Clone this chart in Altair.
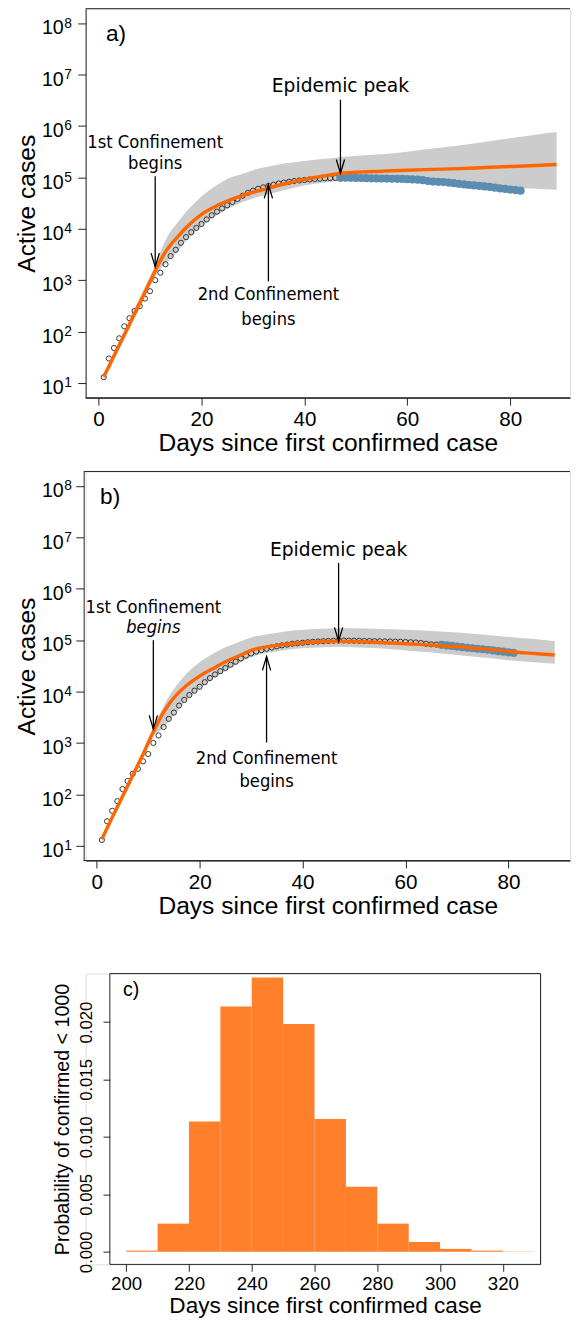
import altair as alt
import pandas as pd

# ---------------- data ----------------
obs_days = list(range(1, 83))
obs_cases = [13, 30, 48, 74, 127, 182, 252, 314, 440, 610,
             1000, 1400, 2040, 2940, 3900, 5340, 6880, 8560, 10400, 12400,
             15200, 18300, 21500, 24900, 28700, 33300, 38000, 44000, 50000, 55000,
             60000, 64000, 68000, 72000, 76000, 79000, 82000, 85000, 87000, 89000,
             91000, 93000, 94000, 95500, 96500, 97500, 98000, 98500, 98000, 97500,
             97000, 96500, 96000, 95500, 95000, 94500, 94000, 93500, 93000, 92000,
             91000, 90000, 88000, 85000, 83000, 82000, 81000, 79000, 77000, 75000,
             73000, 71000, 69500, 68000, 66500, 65000, 63000, 61000, 59500, 58000,
             56500, 55000]

fit_days = [1, 3, 5, 7, 9, 11, 12, 13, 14, 15, 17, 20, 23, 25, 28,
            30, 33, 36, 40, 44, 47, 50, 55, 60, 65, 70, 75, 80, 85, 89]
# model fit and band, read as log10(active cases)
fit_a_log10 = [1.12, 1.53, 1.94, 2.35, 2.76, 3.18, 3.38, 3.55, 3.69, 3.80, 4.02, 4.28, 4.45, 4.54, 4.65,
               4.71, 4.79, 4.87, 4.96, 5.03, 5.08, 5.10, 5.12, 5.14, 5.155, 5.17, 5.19, 5.21, 5.23, 5.25]
hi_a_log10 = [1.18, 1.60, 2.02, 2.45, 2.87, 3.30, 3.55, 3.77, 3.95, 4.08, 4.33, 4.63, 4.85, 4.97, 5.07,
              5.14, 5.21, 5.27, 5.32, 5.36, 5.39, 5.42, 5.45, 5.50, 5.56, 5.62, 5.69, 5.76, 5.83, 5.88]
lo_a_log10 = [1.06, 1.46, 1.86, 2.26, 2.67, 3.08, 3.22, 3.32, 3.42, 3.52, 3.76, 4.04, 4.27, 4.38, 4.52,
              4.59, 4.67, 4.75, 4.84, 4.90, 4.93, 4.93, 4.92, 4.90, 4.88, 4.86, 4.83, 4.80, 4.78, 4.76]
fit_b_log10 = [1.13, 1.55, 1.96, 2.37, 2.78, 3.22, 3.42, 3.60, 3.75, 3.88, 4.08, 4.30, 4.47, 4.58, 4.71,
               4.80, 4.87, 4.91, 4.95, 4.975, 4.98, 4.975, 4.955, 4.93, 4.905, 4.87, 4.83, 4.78, 4.74, 4.71]
hi_b_log10 = [1.19, 1.61, 2.02, 2.43, 2.85, 3.30, 3.52, 3.72, 3.90, 4.05, 4.30, 4.57, 4.76, 4.86, 4.98,
              5.05, 5.11, 5.16, 5.20, 5.22, 5.23, 5.23, 5.215, 5.20, 5.18, 5.15, 5.11, 5.06, 5.02, 4.98]
lo_b_log10 = [1.07, 1.49, 1.90, 2.31, 2.72, 3.14, 3.22, 3.30, 3.42, 3.53, 3.78, 4.05, 4.28, 4.40, 4.57,
              4.67, 4.75, 4.80, 4.84, 4.86, 4.87, 4.86, 4.84, 4.80, 4.76, 4.71, 4.66, 4.61, 4.57, 4.54]

split_a, end_a = 47, 82      # fitted (open) vs held-out (blue) observations
split_b, end_b = 67, 81

y_exponents = [1, 2, 3, 4, 5, 6, 7, 8]
x_ticks_ab = [0, 20, 40, 60, 80]

note_text = ["1st Confinement", "begins", "Epidemic peak", "2nd Confinement", "begins"]
note_day = [11, 11, 47, 33, 33]
note_log_a = [5.68, 5.28, 6.77, 2.72, 2.24]
note_log_b = [5.65, 5.25, 6.75, 2.71, 2.25]
note_face = ["condensed", "condensed", "regular", "condensed", "condensed"]
note_style_a = ["normal", "normal", "normal", "normal", "normal"]
note_style_b = ["normal", "italic", "normal", "normal", "normal"]

arrow_day = [11, 47, 33]
arrow_dir = ["down", "down", "up"]
arrow_from_log_a = [5.02, 6.51, 2.975]
arrow_to_log_a = [3.26, 5.08, 4.86]
arrow_from_log_b = [5.00, 6.50, 3.01]
arrow_to_log_b = [3.27, 4.98, 4.68]

hist_left = [200, 210, 220, 230, 240, 250, 260, 270, 280, 290, 300, 310, 320]
hist_prob = [0.0001, 0.00245, 0.01134, 0.02135, 0.02388, 0.01983, 0.01156,
             0.00565, 0.00245, 0.00084, 0.00025, 0.0001, 0.00003]
hist_ticks = [200, 220, 240, 260, 280, 300, 320]
prob_ticks = [0.0, 0.005, 0.010, 0.015, 0.020]
c_frame_x = [194.8, 332.0]          # R's plotting region of panel c
c_frame_y = [-0.0011, 0.02422]

# ---------------- styling ----------------
FONT = "Liberation Sans"
NOTE_FONTS = {"condensed": ("DejaVu Sans Condensed, DejaVu Sans", 18.5),
              "regular": ("DejaVu Sans", 19)}
LINE = "#222222"
ORANGE = "#FF6600"
BLUE = "#5B8DB0"
BAND = "#CCCCCC"
HIST = "#FF7F2A"
HEAD_DOWN = "M-0.3,-1L0,0L0.3,-1"
HEAD_UP = "M-0.3,1L0,0L0.3,1"
PLOT_H = 396


def curve_panel(tag, tag_day, tag_log, fit_log, hi_log, lo_log, split, end,
                note_log, note_style, arr_from, arr_to, width, xmin, xmax,
                label_pad, extent, axis_shift):
    xs = alt.Scale(domain=[xmin, xmax], nice=False, zero=False)
    ys = alt.Scale(type="log", domain=[10 ** 0.713, 10 ** 8.28], nice=False)

    fit_df = pd.DataFrame({
        "day": fit_days,
        "fit": [10 ** v for v in fit_log],
        "hi": [10 ** v for v in hi_log],
        "lo": [10 ** v for v in lo_log],
    })
    obs = pd.DataFrame({"day": obs_days, "cases": obs_cases})
    black = obs[obs.day <= split]
    blue = obs[(obs.day >= split) & (obs.day <= end)]
    notes = pd.DataFrame({"day": note_day, "val": [10 ** v for v in note_log],
                          "text": note_text, "style": note_style, "face": note_face})
    arrows = pd.DataFrame({"day": arrow_day,
                           "y0": [10 ** v for v in arr_from],
                           "y1": [10 ** v for v in arr_to],
                           "head": [HEAD_DOWN if d == "down" else HEAD_UP for d in arrow_dir]})
    sup = pd.DataFrame({"val": [10.0 ** e for e in y_exponents],
                        "exp": [str(e) for e in y_exponents]})
    tagdf = pd.DataFrame({"day": [tag_day], "val": [10 ** tag_log], "text": [tag]})

    x_axis = alt.Axis(values=x_ticks_ab, format="d", grid=False, labelFlush=False,
                      labelFont=FONT, labelFontSize=21, labelColor="black", labelPadding=4,
                      tickSize=7.5, tickColor=LINE, domainColor=LINE,
                      title="Days since first confirmed case", titleFont=FONT,
                      titleFontSize=25, titleFontWeight="normal", titleColor="black",
                      titlePadding=2, minExtent=32, maxExtent=32)
    y_axis = alt.Axis(values=[10.0 ** e for e in y_exponents], labelExpr="'10'",
                      grid=False, labelOverlap=False, labelFont=FONT, labelFontSize=20,
                      labelColor="black", labelAlign="right", labelBaseline="alphabetic",
                      labelOffset=11, labelPadding=label_pad, tickSize=8, tickColor=LINE,
                      domainColor=LINE, title="Active cases", titleFont=FONT,
                      titleFontSize=25, titleFontWeight="normal", titleColor="black",
                      titlePadding=3, minExtent=extent, maxExtent=extent, offset=axis_shift)

    X = lambda f: alt.X(f, scale=xs, axis=None)
    Y = lambda f: alt.Y(f, scale=ys, axis=None)

    band = alt.Chart(fit_df).mark_area(color=BAND, interpolate="monotone").encode(
        x=alt.X("day:Q", scale=xs, axis=x_axis),
        y=alt.Y("lo:Q", scale=ys, axis=y_axis),
        y2="hi:Q")
    top_line = alt.Chart(tagdf).mark_rule(color=LINE, strokeWidth=1).encode(
        x=alt.value(-axis_shift), x2=alt.value(width), y=alt.value(0))
    bottom_line = alt.Chart(tagdf).mark_rule(color=LINE, strokeWidth=1).encode(
        x=alt.value(-axis_shift), x2=alt.value(width), y=alt.value(PLOT_H))
    circles = alt.Chart(black).mark_point(shape="circle", filled=False, color=LINE,
                                          strokeWidth=0.9, size=28, opacity=1).encode(
        x=X("day:Q"), y=Y("cases:Q"))
    held = alt.Chart(blue).mark_circle(color=BLUE, size=70, opacity=1).encode(
        x=X("day:Q"), y=Y("cases:Q"))
    line = alt.Chart(fit_df).mark_line(color=ORANGE, strokeWidth=3.5, interpolate="monotone").encode(
        x=X("day:Q"), y=Y("fit:Q"))
    shafts = alt.Chart(arrows).mark_rule(color="black", strokeWidth=1.3).encode(
        x=X("day:Q"), y=Y("y0:Q"), y2="y1:Q")
    heads = alt.Chart(arrows).mark_point(filled=False, color="black", strokeWidth=1.3,
                                         size=784, opacity=1).encode(
        x=X("day:Q"), y=Y("y1:Q"), shape=alt.Shape("head:N", scale=None))
    layers = [band, top_line, bottom_line, circles, held, line, shafts, heads]
    for face in ["condensed", "regular"]:
        for style in ["normal", "italic"]:
            sub = notes[(notes["face"] == face) & (notes["style"] == style)]
            if len(sub) == 0:
                continue
            fam, size = NOTE_FONTS[face]
            layers.append(alt.Chart(sub).mark_text(
                font=fam, fontSize=size, color="black", fontStyle=style,
                baseline="middle", align="center").encode(
                x=X("day:Q"), y=Y("val:Q"), text="text:N"))
    exps = alt.Chart(sup).mark_text(font=FONT, fontSize=14, color="black", align="left",
                                    baseline="alphabetic",
                                    dx=-axis_shift - label_pad - 8 + 1, dy=4.5).encode(
        x=alt.value(0), y=Y("val:Q"), text="exp:N")
    tag_mark = alt.Chart(tagdf).mark_text(font=FONT, fontSize=23, color="black",
                                          baseline="middle", align="center").encode(
        x=X("day:Q"), y=Y("val:Q"), text="text:N")
    layers += [exps, tag_mark]

    return alt.layer(*layers).resolve_axis(x="independent", y="independent").properties(
        width=width, height=PLOT_H)


panel_a = curve_panel("a)", 3.4, 7.79, fit_a_log10, hi_a_log10, lo_a_log10, split_a, end_a,
                      note_log_a, note_style_a, arrow_from_log_a, arrow_to_log_a,
                      width=493, xmin=-2.52, xmax=91.61, label_pad=14.7, extent=44,
                      axis_shift=0)
panel_b = curve_panel("b)", 2.6, 7.78, fit_b_log10, hi_b_log10, lo_b_log10, split_b, end_b,
                      note_log_b, note_style_b, arrow_from_log_b, arrow_to_log_b,
                      width=493, xmin=-2.16, xmax=91.97, label_pad=12.7, extent=42,
                      axis_shift=2)

# ---------------- panel c ----------------
# plot area starts where panels a/b start; the R box of panel c is drawn from c_frame_*
C_PX_PER_DAY = 3.2
c_left = c_frame_x[0] - 24.7 / C_PX_PER_DAY
c_width = 463
hist_df = pd.DataFrame({"left": hist_left, "right": [v + 10 for v in hist_left],
                        "prob": hist_prob, "zero": [0.0] * len(hist_left)})
frame_df = pd.DataFrame({"x0": [c_frame_x[0]], "x1": [c_frame_x[1]],
                         "y0": [c_frame_y[0]], "y1": [c_frame_y[1]]})
cx = alt.Scale(domain=[c_left, c_frame_x[1]], nice=False, zero=False)
cy = alt.Scale(domain=c_frame_y, nice=False, zero=False)
bars = alt.Chart(hist_df).mark_rect(color=HIST).encode(
    x=alt.X("left:Q", scale=cx, axis=alt.Axis(
        values=hist_ticks, format="d", grid=False, domain=False, labelFlush=False,
        labelFont=FONT, labelFontSize=19, labelColor="black", labelPadding=4,
        tickSize=7, tickColor=LINE, title="Days since first confirmed case",
        titleFont=FONT, titleFontSize=23, titleFontWeight="normal", titleColor="black",
        titlePadding=1, minExtent=30, maxExtent=30, titleX=24.7 + 219)),
    x2="right:Q",
    y=alt.Y("zero:Q", scale=cy, axis=alt.Axis(
        values=prob_ticks, format=".3f", grid=False, domain=False, labelFlush=False,
        labelOverlap=False, labelAngle=270, labelAlign="center", labelBaseline="bottom",
        labelFont=FONT, labelFontSize=17, labelColor="black", labelPadding=8,
        tickSize=7, tickColor=LINE, title="Probability of confirmed < 1000",
        titleFont=FONT, titleFontSize=20, titleFontWeight="normal", titleColor="black",
        titlePadding=6, minExtent=32, maxExtent=32, offset=-24.7)),
    y2="prob:Q")
frame = alt.Chart(frame_df).mark_rect(filled=False, stroke=LINE, strokeWidth=1, fillOpacity=0).encode(
    x=alt.X("x0:Q", scale=cx, axis=None), x2="x1:Q",
    y=alt.Y("y0:Q", scale=cy, axis=None), y2="y1:Q")
c_tag = alt.Chart(pd.DataFrame({"x": [201.6], "y": [0.0228], "t": ["c)"]})).mark_text(
    font=FONT, fontSize=20, color="black", baseline="middle", align="center").encode(
    x=alt.X("x:Q", scale=cx, axis=None), y=alt.Y("y:Q", scale=cy, axis=None), text="t:N")
panel_c = alt.layer(bars, frame, c_tag).resolve_axis(
    x="independent", y="independent").properties(width=c_width, height=296)

upper = alt.vconcat(panel_a, panel_b, spacing=14)
chart = alt.vconcat(upper, panel_c, spacing=54).properties(
    padding={"left": 6, "right": 0, "top": -12, "bottom": -3}
).configure_view(stroke=None).configure(font=FONT)

chart.save("out.html", embed_options={"renderer": "svg", "actions": False})
